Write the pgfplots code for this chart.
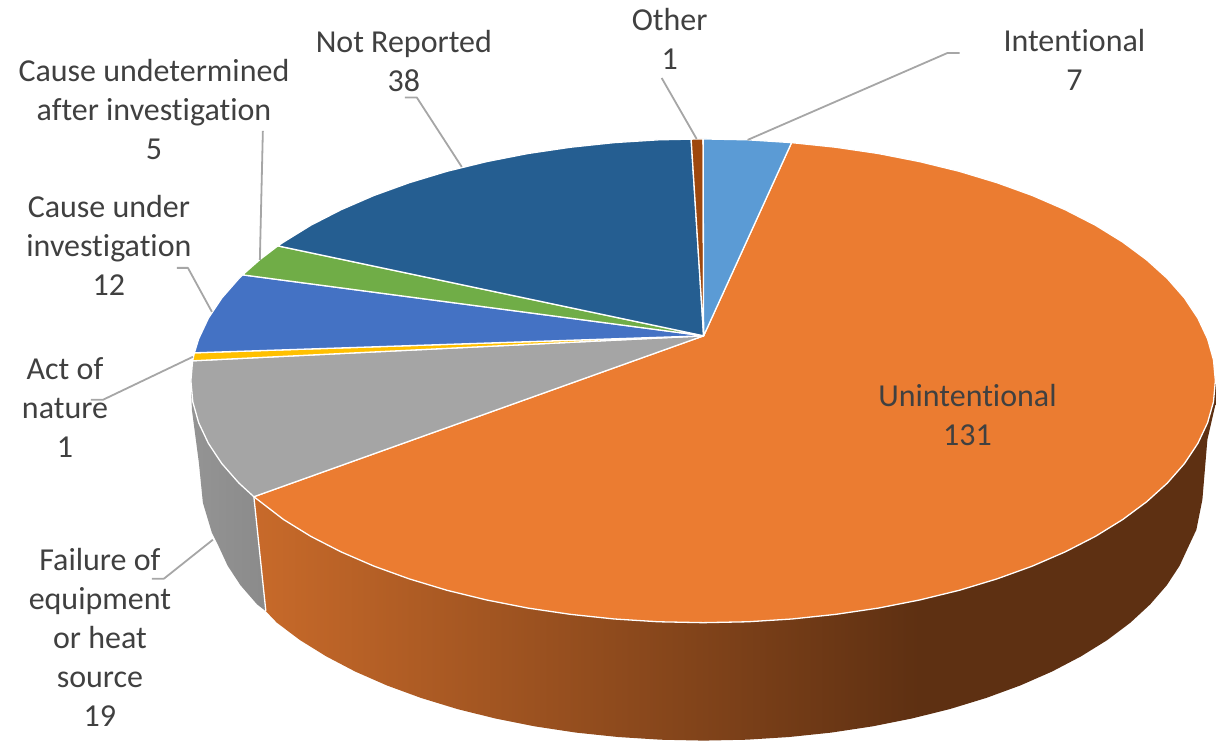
\documentclass[border=0pt]{standalone}
\usepackage{pgfplots}
\pgfplotsset{compat=1.18}
\usepackage{fontspec}
\setmainfont[Ligatures=NoCommon]{Carlito}
\definecolor{cInt}{HTML}{5B9BD5}
\definecolor{cUni}{HTML}{EB7C31}
\definecolor{cFail}{HTML}{A5A5A5}
\definecolor{cAct}{HTML}{FFC000}
\definecolor{cInv}{HTML}{4472C4}
\definecolor{cUnd}{HTML}{70AD47}
\definecolor{cNot}{HTML}{255E91}
\definecolor{cOth}{HTML}{9E480E}
\definecolor{cLead}{HTML}{A6A6A6}
\definecolor{cText}{HTML}{404040}
\definecolor{oA}{HTML}{C86A2A}
\definecolor{oB}{HTML}{5E3012}
\definecolor{gA}{HTML}{949494}
\definecolor{gB}{HTML}{868686}
\pgfdeclarehorizontalshading{sideo}{100bp}{color(0bp)=(oA); color(25bp)=(oA); color(59.6bp)=(oB); color(100bp)=(oB)}
\pgfdeclarehorizontalshading{sideg}{100bp}{color(0bp)=(gA); color(25bp)=(gA); color(75bp)=(gB); color(100bp)=(gB)}
\pgfplotsset{
  slice/.style={fill=#1,draw=white,line width=1.3pt,line join=round},
  lead/.style={draw=cLead,line width=1.8pt,line join=round},
}
\tikzset{lab/.style={align=center,inner sep=0pt,text=cText,font=\fontsize{32}{39}\selectfont}}
\begin{document}
\begin{tikzpicture}
\begin{axis}[
  width=1216pt,height=741pt,scale only axis,hide axis,clip=false,
  xmin=0,xmax=1216,ymin=0,ymax=741,y dir=reverse,enlargelimits=false]
\addplot[draw=none] coordinates {(0,0)(1216,741)};
% side walls
\addplot[shading=sideg,draw=none,line join=round] coordinates {
(254,497)(266,611.5)(257.2,604.7)(240.7,585.7)(227.8,566.1)(218.5,546)(212,533)(203,503)(199,463)(192,410)(191,381)(300,400)} --cycle;
\addplot[shading=sideo,draw=none] coordinates {
(254,497)(266,611.5)(277,623)(300.1,640.4)(326.4,656.7)(355.4,671.9)(387.1,685.8)(421.2,698.3)(457.5,709.4)(495.7,718.9)(535.4,726.8)(576.4,733)(618.4,737.4)(661,740.1)(704,741)
(747,740.1)(789.6,737.4)(831.6,733)(872.6,726.8)(912.3,718.9)(950.5,709.4)(986.8,698.3)(1020.9,685.8)(1052.6,671.9)(1081.6,656.7)(1107.9,640.4)(1131,623)(1150.8,604.7)(1167.3,585.7)(1180.2,566.1)(1189.5,546)(1197,530)(1203,500)(1208,440)(1216,405)(1216,381)(900,400)} --cycle;
\addplot[draw=white,line width=1.3pt] coordinates {(254,497)(266,611.5)};
% top slices
\addplot[slice=cUni] coordinates {
(704,336)(792,142.7)(836.1,147.3)(878.8,153.6)(920.1,161.7)(959.8,171.4)(997.5,182.8)(1032.9,195.6)(1065.9,209.9)(1096.1,225.4)(1123.3,242.2)(1147.3,260)(1168,278.7)(1185.1,298.2)(1198.5,318.4)(1208.2,339)(1214.1,359.9)(1216,381)
(1214.1,402.1)(1208.2,423)(1198.5,443.6)(1185.1,463.8)(1168,483.3)(1147.3,502)(1123.3,519.8)(1096.1,536.6)(1065.9,552.1)(1032.9,566.4)(997.5,579.2)(959.8,590.6)(920.1,600.3)(878.8,608.4)(836.1,614.7)(792.5,619.3)(748.2,622.1)(703.5,623)
(658.8,622.1)(614.5,619.3)(570.9,614.7)(528.2,608.4)(486.9,600.3)(447.2,590.6)(409.5,579.2)(374.1,566.4)(341.1,552.1)(310.9,536.6)(283.7,519.8)(254,497)} --cycle;
\addplot[slice=cFail] coordinates {
(704,336)(254,497)(239,483.3)(221.9,463.8)(208.5,443.6)(198.8,423)(192.9,402.1)(191,381)(192.7,361)} --cycle;
\addplot[slice=cAct] coordinates {(704,336)(192.7,361)(194.5,353)} --cycle;
\addplot[slice=cInv] coordinates {(704,336)(194.5,353)(198.8,339)(208.5,318.4)(221.9,298.2)(239,278.7)(242.7,275)} --cycle;
\addplot[slice=cUnd] coordinates {(704,336)(242.7,275)(259.7,260)(278,246)} --cycle;
\addplot[slice=cNot] coordinates {
(704,336)(278,246)(283.7,242.2)(310.9,225.4)(341.1,209.9)(374.1,195.6)(409.5,182.8)(447.2,171.4)(486.9,161.7)(528.2,153.6)(570.9,147.3)(614.5,142.7)(658.8,139.9)(691.5,139.2)} --cycle;
\addplot[slice=cOth] coordinates {(704,336)(691.5,139.2)(703.5,139)} --cycle;
\addplot[slice=cInt] coordinates {(704,336)(703.5,139)(748.2,139.9)(792,142.7)} --cycle;
% labels
\node[lab] at (axis cs:1075,60) {Intentional\\7};
\node[lab] at (axis cs:968,415) {Unintentional\\131};
\node[lab] at (axis cs:670,39) {Other\\1};
\node[lab] at (axis cs:404,61) {Not Reported\\38};
\node[lab] at (axis cs:154,110) {Cause undetermined\\after investigation\\5};
\node[lab] at (axis cs:109,246) {Cause under\\investigation\\12};
\node[lab] at (axis cs:65,408) {Act of\\nature\\1};
\node[lab] at (axis cs:100,638) {Failure of\\equipment\\or heat\\source\\19};
% leader lines
\addplot[lead] coordinates {(748,140)(948,53)(960,53)};
\addplot[lead] coordinates {(697,139)(662,78)};
\addplot[lead] coordinates {(462,167)(417,97.5)(405,97.5)};
\addplot[lead] coordinates {(260,260)(263,131)};
\addplot[lead] coordinates {(212,312)(188,268)(177,268)};
\addplot[lead] coordinates {(193,357)(103,400)(91,400)};
\addplot[lead] coordinates {(213,540)(164,579)(152,579)};
\end{axis}
\end{tikzpicture}
\end{document}
